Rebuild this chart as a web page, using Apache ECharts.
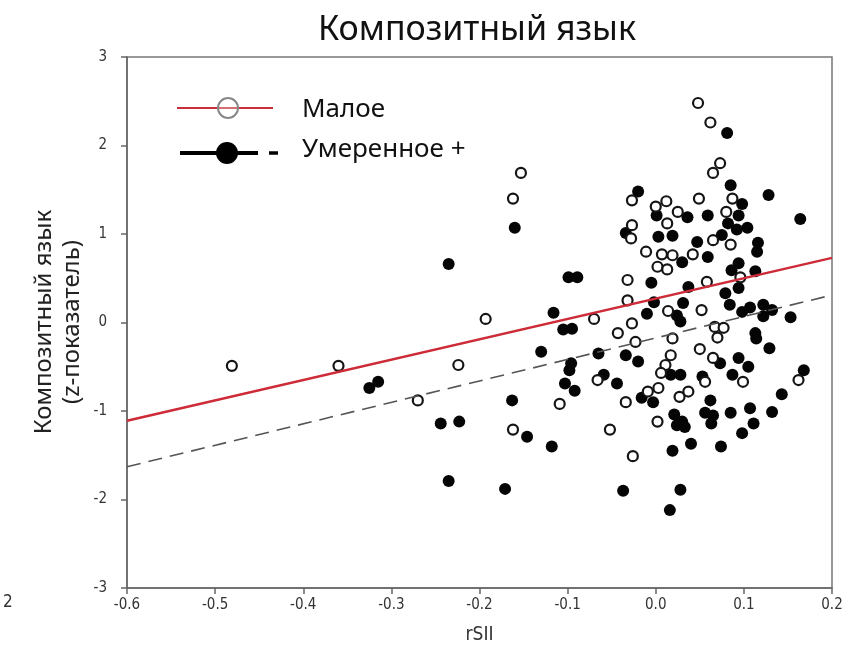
<!DOCTYPE html>
<html>
<head>
<meta charset="utf-8">
<script src="https://cdn.jsdelivr.net/npm/echarts@6/dist/echarts.min.js"></script>
<style>
html,body{margin:0;padding:0;background:#fff;}
#c{width:851px;height:671px;}
</style>
</head>
<body>
<div id="c"></div>
<script>
// ---- data ----
const chartTitle = 'Композитный язык';
const xTitle = 'rSII';
const yTitle = 'Композитный язык\n(z-показатель)';
const seriesNames = ['Малое', 'Умеренное +'];

// open circles: "Малое"
const smallX = [-0.481,-0.360,-0.224,-0.270,-0.193,-0.153,-0.162,-0.162,-0.109,-0.070,
  -0.043,-0.066,-0.052,-0.034,-0.026,-0.027,-0.027,-0.028,-0.011,0.000,
  0.002,-0.032,-0.032,-0.027,-0.023,-0.009,0.002,0.048,0.062,0.073,
  0.065,0.049,0.012,0.025,0.080,0.013,0.065,0.085,0.007,0.019,
  0.042,0.013,0.058,0.014,0.052,0.067,0.077,0.019,0.070,0.050,
  0.017,0.065,0.011,0.006,0.056,0.003,0.027,0.037,0.087,0.096,
  0.099,0.162];
const smallY = [-0.49,-0.49,-0.48,-0.88,0.04,1.69,1.40,-1.21,-0.92,0.04,
  -0.12,-0.65,-1.21,-0.90,-1.51,1.38,1.10,0.95,0.80,1.31,
  0.63,0.48,0.25,-0.01,-0.22,-0.78,-1.12,2.48,2.26,1.80,
  1.69,1.40,1.37,1.25,1.25,1.12,0.93,0.88,0.77,0.76,
  0.77,0.60,0.46,0.13,0.14,-0.05,-0.06,-0.18,-0.17,-0.30,
  -0.37,-0.40,-0.48,-0.57,-0.67,-0.74,-0.84,-0.78,1.40,0.51,
  -0.67,-0.65];

// filled circles: "Умеренное +"
const modX = [-0.235,-0.325,-0.315,-0.244,-0.223,-0.235,-0.163,-0.171,-0.160,-0.099,
  -0.089,-0.116,-0.105,-0.095,-0.130,-0.096,-0.098,-0.103,-0.092,-0.065,
  -0.059,-0.044,-0.034,-0.020,-0.146,-0.118,-0.037,-0.016,-0.003,-0.020,
  -0.034,0.001,0.003,-0.005,-0.002,-0.010,0.081,0.085,0.128,0.164,
  0.036,0.059,0.019,0.047,0.075,0.059,0.030,0.086,0.037,0.079,
  0.031,0.084,0.024,0.028,0.098,0.094,0.082,0.092,0.104,0.116,
  0.115,0.094,0.113,0.094,0.098,0.107,0.122,0.132,0.122,0.153,
  0.113,0.073,0.017,0.028,0.053,0.087,0.062,0.021,0.030,0.024,
  0.033,0.056,0.065,0.063,0.085,0.019,0.040,0.074,0.028,0.016,
  0.114,0.129,0.094,0.105,0.168,0.143,0.107,0.132,0.111,0.098];
const modY = [0.66,-0.74,-0.67,-1.14,-1.12,-1.79,-0.88,-1.88,1.07,0.51,
  0.51,0.11,-0.08,-0.07,-0.33,-0.46,-0.54,-0.69,-0.77,-0.35,
  -0.59,-0.69,-0.37,-0.44,-1.29,-1.40,-1.90,-0.85,-0.90,1.48,
  1.01,1.21,0.97,0.45,0.23,0.10,2.14,1.55,1.44,1.17,
  1.19,1.21,0.98,0.91,0.99,0.74,0.68,0.59,0.40,0.33,
  0.22,0.20,0.08,0.01,1.34,1.21,1.12,1.05,1.07,0.90,
  0.80,0.67,0.58,0.39,0.12,0.17,0.20,0.14,0.07,0.06,
  -0.12,-0.46,-0.59,-0.59,-0.61,-0.59,-0.88,-1.04,-1.12,-1.16,
  -1.18,-1.02,-1.05,-1.14,-1.02,-1.45,-1.37,-1.40,-1.89,-2.12,
  -0.18,-0.29,-0.40,-0.50,-0.54,-0.81,-0.97,-1.01,-1.14,-1.25];

// regression lines (endpoints)
const fitSmallX = [-0.6, 0.2];
const fitSmallY = [-1.11, 0.73];
const fitModX = [-0.6, 0.2];
const fitModY = [-1.63, 0.31];

// axes
const xMin = -0.6, xMax = 0.2, xStep = 0.1;
const yMin = -3, yMax = 3, yStep = 1;

// ---- chart ----
const zip = (a, b) => a.map((v, i) => [v, b[i]]);
const tickFont = "'Liberation Sans Narrow','DejaVu Sans Condensed','Liberation Sans',sans-serif";
const textFont = "'Noto Sans','Open Sans',sans-serif";

const chart = echarts.init(document.getElementById('c'), null, {renderer: 'canvas'});
chart.setOption({
  animation: false,
  backgroundColor: '#fff',
  title: {
    text: chartTitle, left: 472, top: 8, textAlign: 'center',
    textStyle: {fontFamily: textFont, fontSize: 34, fontWeight: 'normal', color: '#111'}
  },
  grid: {left: 127, right: 19, top: 57, bottom: 83, show: true, borderColor: '#777', borderWidth: 1.5, backgroundColor: '#fff'},
  xAxis: {
    type: 'value', min: xMin, max: xMax, interval: xStep,
    name: xTitle, nameLocation: 'middle', nameGap: 38,
    nameTextStyle: {fontFamily: tickFont, fontSize: 19, color: '#333'},
    axisLine: {show: true, onZero: false, lineStyle: {color: '#666', width: 1.5}},
    axisTick: {show: true, length: 6, lineStyle: {color: '#666', width: 1.5}},
    axisLabel: {margin: 10, fontFamily: tickFont, fontSize: 15, color: '#333',
      formatter: v => v.toFixed(1)},
    splitLine: {show: false}
  },
  yAxis: {
    type: 'value', min: yMin, max: yMax, interval: yStep,
    axisLine: {show: true, onZero: false, lineStyle: {color: '#666', width: 1.5}},
    axisTick: {show: true, length: 6, lineStyle: {color: '#666', width: 1.5}},
    axisLabel: {margin: 20, fontFamily: tickFont, fontSize: 15, color: '#333',
      formatter: v => String(Math.round(v))},
    splitLine: {show: false}
  },
  series: [
    {
      name: seriesNames[1], type: 'scatter', data: zip(modX, modY),
      symbol: 'circle', symbolSize: 12, z: 2,
      itemStyle: {color: '#050505', opacity: 1}
    },
    {
      name: seriesNames[0], type: 'scatter', data: zip(smallX, smallY),
      symbol: 'circle', symbolSize: 10, z: 3,
      itemStyle: {color: '#fff', borderColor: '#151515', borderWidth: 2.2, opacity: 1}
    },
    {
      name: seriesNames[1] + ' fit', type: 'line', data: zip(fitModX, fitModY),
      showSymbol: false, symbol: 'none', z: 4,
      lineStyle: {color: '#555', width: 1.6, type: [14, 8]}
    },
    {
      name: seriesNames[0] + ' fit', type: 'line', data: zip(fitSmallX, fitSmallY),
      showSymbol: false, symbol: 'none', z: 5,
      lineStyle: {color: '#cc2b37', width: 2.5}
    }
  ],
  graphic: [
    {type: 'text', x: 58, y: 322, rotation: Math.PI / 2,
      style: {text: yTitle, fontFamily: textFont, fontSize: 24, fill: '#222', align: 'center', verticalAlign: 'middle', lineHeight: 28}},
    // legend (decoration)
    {type: 'line', shape: {x1: 177, y1: 108, x2: 273, y2: 108}, style: {stroke: '#c8303c', lineWidth: 2}, z: 10},
    {type: 'circle', shape: {cx: 228, cy: 108, r: 10}, style: {fill: 'rgba(255,255,255,0.3)', stroke: '#888', lineWidth: 2}, z: 11},
    {type: 'text', x: 302, y: 110, style: {text: seriesNames[0], fontFamily: textFont, fontSize: 26, fill: '#111', verticalAlign: 'middle'}, z: 10},
    {type: 'line', shape: {x1: 180, y1: 153, x2: 258, y2: 153}, style: {stroke: '#000', lineWidth: 4}, z: 10},
    {type: 'circle', shape: {cx: 227, cy: 153, r: 11}, style: {fill: '#000'}, z: 11},
    {type: 'line', shape: {x1: 269, y1: 153, x2: 278, y2: 153}, style: {stroke: '#000', lineWidth: 3.5}, z: 10},
    {type: 'text', x: 302, y: 150, style: {text: seriesNames[1], fontFamily: textFont, fontSize: 26, fill: '#111', verticalAlign: 'middle'}, z: 10},
    // stray fragment of neighbouring panel at bottom-left
    {type: 'text', x: 3, y: 603, style: {text: '2', fontFamily: tickFont, fontSize: 17, fill: '#333', verticalAlign: 'middle'}}
  ]
});
</script>
</body>
</html>
